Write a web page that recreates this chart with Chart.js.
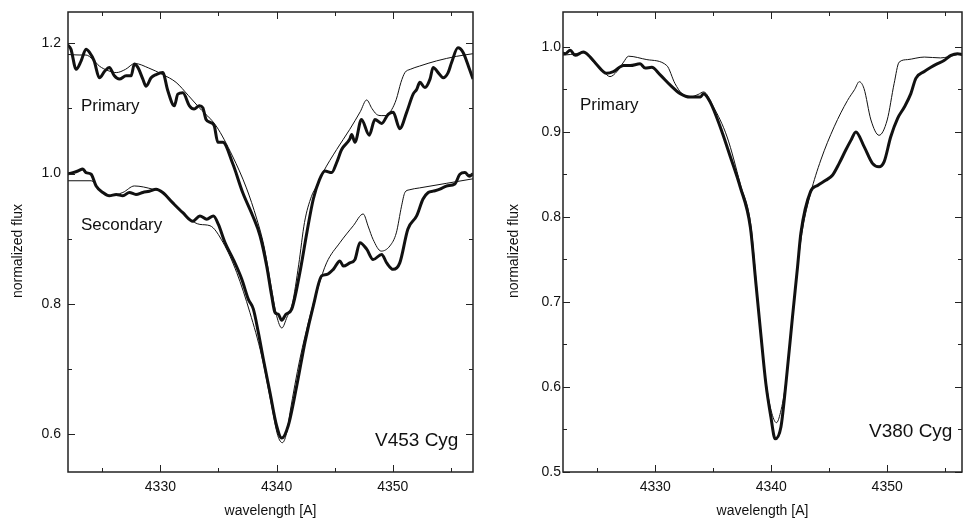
<!DOCTYPE html>
<html>
<head>
<meta charset="utf-8">
<script src="https://cdn.jsdelivr.net/npm/chart.js@4"></script>
<style>
  html, body { margin: 0; padding: 0; background: #fff; overflow: hidden; }
  #wrap { position: relative; width: 963px; height: 522px; }
  canvas { position: absolute; top: 0; }
  #left { left: 0; }
  #right { left: 480px; }
</style>
</head>
<body>
<div id="wrap">
  <canvas id="left" width="480" height="522"></canvas>
  <canvas id="right" width="483" height="522"></canvas>
</div>
<script>
// Axis ticks
const xMajorTicks = [4330, 4340, 4350];
const xMinorTicks = [4325, 4335, 4345, 4355];
const v453MajorTicks = [0.6, 0.8, 1.0, 1.2];
const v453MinorTicks = [0.7, 0.9, 1.1];
const v380MajorTicks = [0.5, 0.6, 0.7, 0.8, 0.9, 1.0];
const v380MinorTicks = [0.55, 0.65, 0.75, 0.85, 0.95];

// V453 Cyg - primary, observed (thick)
const v453PriObsX = [4322.0, 4322.3, 4322.75, 4323.18, 4323.6, 4323.9, 4324.3, 4324.75, 4325.2, 4325.6,
  4326.04, 4326.47, 4327.05, 4327.48, 4327.76, 4328.06, 4328.49, 4328.77, 4329.2, 4329.63,
  4330.2, 4330.64, 4331.2, 4331.5, 4331.93, 4332.5, 4332.9, 4333.35, 4333.65, 4333.93,
  4334.36, 4334.64, 4334.94, 4335.37, 4336.23, 4337.08, 4337.95, 4338.57, 4339.15, 4339.58,
  4339.86, 4340.15, 4340.44, 4340.8, 4341.3, 4342.0, 4342.6, 4343.16, 4343.7, 4344.16,
  4344.74, 4345.17, 4345.6, 4346.3, 4346.46, 4346.74, 4347.3, 4347.97, 4348.46, 4349.04,
  4349.6, 4350.03, 4350.6, 4351.19, 4351.75, 4352.05, 4352.33, 4352.76, 4353.2, 4353.47,
  4353.9, 4354.33, 4354.76, 4355.05, 4355.6, 4356.05, 4356.6, 4356.9];
const v453PriObsY = [1.198, 1.191, 1.160, 1.173, 1.191, 1.186, 1.173, 1.147, 1.157, 1.163,
  1.150, 1.145, 1.150, 1.150, 1.168, 1.163, 1.145, 1.134, 1.147, 1.152,
  1.155, 1.127, 1.104, 1.122, 1.124, 1.104, 1.099, 1.104, 1.101, 1.083,
  1.078, 1.073, 1.048, 1.048, 1.015, 0.971, 0.935, 0.905, 0.858, 0.812,
  0.787, 0.784, 0.775, 0.784, 0.792, 0.848, 0.909, 0.961, 0.991, 1.004,
  1.0015, 1.017, 1.037, 1.053, 1.060, 1.048, 1.083, 1.059, 1.083, 1.077,
  1.091, 1.094, 1.069, 1.094, 1.122, 1.129, 1.140, 1.132, 1.145, 1.163,
  1.155, 1.147, 1.155, 1.170, 1.193, 1.186, 1.160, 1.145];

// V453 Cyg - primary, model (thin)
const v453PriModX = [4321.9, 4323.0, 4323.6, 4324.2, 4324.75, 4325.5, 4326.2, 4327.0, 4327.8, 4329.0,
  4330.2, 4331.35, 4332.4, 4333.35, 4334.8, 4336.2, 4337.4, 4338.3, 4338.9, 4339.5,
  4340.0, 4340.45, 4340.9, 4341.35, 4341.9, 4342.4, 4343.0, 4343.45, 4344.0, 4345.17,
  4346.3, 4347.2, 4347.75, 4348.2, 4348.6, 4349.0, 4349.47, 4349.9, 4350.3, 4350.7,
  4351.04, 4351.5, 4352.3, 4353.77, 4355.5, 4356.9];
const v453PriModY = [1.183, 1.182, 1.182, 1.175, 1.165, 1.158, 1.155, 1.160, 1.169, 1.162,
  1.152, 1.140, 1.120, 1.101, 1.073, 1.027, 0.978, 0.930, 0.890, 0.830,
  0.782, 0.763, 0.780, 0.800, 0.860, 0.925, 0.965, 0.981, 1.002, 1.037,
  1.068, 1.095, 1.113, 1.100, 1.091, 1.089, 1.089, 1.098, 1.114, 1.140,
  1.155, 1.160, 1.165, 1.173, 1.180, 1.184];

// V453 Cyg - secondary, observed (thick)
const v453SecObsX = [4321.9, 4322.47, 4322.9, 4323.33, 4323.6, 4324.04, 4324.47, 4325.05, 4325.6, 4326.2,
  4326.77, 4327.33, 4327.9, 4328.49, 4329.05, 4329.63, 4330.2, 4331.07, 4331.93, 4332.8,
  4333.4, 4333.99, 4334.56, 4334.99, 4335.56, 4336.28, 4337.0, 4337.57, 4338.0, 4338.43,
  4338.86, 4339.43, 4340.0, 4340.44, 4341.0, 4341.73, 4342.44, 4343.16, 4343.88, 4344.3,
  4344.88, 4345.45, 4345.74, 4346.3, 4346.74, 4347.17, 4347.75, 4348.3, 4349.04, 4349.47,
  4350.03, 4350.6, 4351.3, 4352.05, 4352.6, 4353.05, 4353.47, 4354.05, 4354.63, 4355.34,
  4355.77, 4356.2, 4356.6, 4356.9];
const v453SecObsY = [0.999, 1.0015, 1.004, 1.007, 1.0015, 0.999, 0.981, 0.971, 0.966, 0.968,
  0.966, 0.971, 0.968, 0.971, 0.973, 0.976, 0.971, 0.955, 0.940, 0.927,
  0.935, 0.930, 0.935, 0.922, 0.894, 0.868, 0.838, 0.807, 0.792, 0.756,
  0.715, 0.664, 0.613, 0.594, 0.613, 0.674, 0.741, 0.797, 0.843, 0.845,
  0.853, 0.866, 0.858, 0.863, 0.868, 0.894, 0.884, 0.868, 0.876, 0.863,
  0.853, 0.863, 0.915, 0.935, 0.961, 0.971, 0.973, 0.976, 0.981, 0.984,
  0.999, 1.0015, 0.996, 1.0];

// V453 Cyg - secondary, model (thin)
const v453SecModX = [4321.9, 4324.04, 4324.75, 4325.6, 4326.77, 4327.76, 4329.35, 4330.2, 4331.35, 4332.5,
  4333.4, 4334.27, 4335.4, 4336.57, 4337.7, 4338.72, 4339.58, 4340.1, 4340.5, 4340.9,
  4341.15, 4342.0, 4342.87, 4343.6, 4344.3, 4345.45, 4346.6, 4347.45, 4347.9, 4348.3,
  4349.0, 4349.75, 4350.3, 4350.75, 4351.04, 4351.4, 4352.3, 4354.6, 4356.9];
const v453SecModY = [0.989, 0.989, 0.976, 0.966, 0.971, 0.981, 0.976, 0.971, 0.950, 0.930,
  0.922, 0.920, 0.894, 0.848, 0.787, 0.720, 0.643, 0.598, 0.587, 0.605,
  0.633, 0.715, 0.781, 0.827, 0.863, 0.894, 0.920, 0.938, 0.918, 0.899,
  0.881, 0.889, 0.909, 0.950, 0.971, 0.975, 0.978, 0.985, 0.992];

// V380 Cyg - primary, observed (thick)
const v380PriObsX = [4321.8, 4322.24, 4322.67, 4323.1, 4323.8, 4324.4, 4324.97, 4325.8, 4326.4, 4327.27,
  4327.84, 4328.7, 4329.14, 4329.7, 4330.43, 4331.3, 4332.16, 4333.0, 4333.9, 4334.17,
  4334.74, 4335.6, 4336.47, 4337.33, 4338.2, 4338.68, 4339.1, 4339.54, 4339.97, 4340.34,
  4340.84, 4341.27, 4341.84, 4342.27, 4342.56, 4343.4, 4344.0, 4344.7, 4345.28, 4345.86,
  4346.44, 4346.87, 4347.3, 4348.0, 4348.73, 4349.3, 4349.74, 4350.3, 4350.9, 4351.47,
  4352.04, 4352.47, 4353.2, 4353.77, 4354.3, 4354.9, 4355.5, 4356.06, 4356.5];
const v380PriObsY = [0.994, 0.992, 0.996, 0.990, 0.994, 0.988, 0.979, 0.969, 0.971, 0.978,
  0.978, 0.980, 0.975, 0.976, 0.967, 0.955, 0.945, 0.941, 0.941, 0.945,
  0.935, 0.906, 0.871, 0.835, 0.788, 0.722, 0.663, 0.604, 0.565, 0.539,
  0.553, 0.604, 0.683, 0.741, 0.781, 0.830, 0.837, 0.843, 0.849, 0.863,
  0.879, 0.890, 0.900, 0.883, 0.863, 0.859, 0.865, 0.894, 0.916, 0.929,
  0.945, 0.963, 0.971, 0.976, 0.980, 0.984, 0.990, 0.992, 0.991];

// V380 Cyg - primary, model (thin)
const v380PriModX = [4321.8, 4322.67, 4323.8, 4324.7, 4325.54, 4326.1, 4326.7, 4327.27, 4327.7, 4329.28,
  4331.0, 4331.7, 4332.3, 4333.0, 4333.7, 4334.17, 4335.0, 4336.2, 4337.33, 4338.25,
  4338.7, 4339.1, 4339.55, 4340.0, 4340.45, 4340.8, 4341.27, 4341.84, 4342.27, 4342.7,
  4343.4, 4344.28, 4345.43, 4346.58, 4347.2, 4347.59, 4348.0, 4348.6, 4349.3, 4350.0,
  4350.6, 4351.03, 4351.75, 4353.2, 4354.6, 4356.06, 4356.5];
const v380PriModY = [0.990, 0.991, 0.993, 0.982, 0.971, 0.965, 0.971, 0.982, 0.989, 0.985,
  0.978, 0.957, 0.945, 0.941, 0.944, 0.947, 0.930, 0.894, 0.839, 0.790,
  0.724, 0.665, 0.606, 0.572, 0.558, 0.570, 0.606, 0.683, 0.741, 0.785,
  0.828, 0.867, 0.906, 0.937, 0.950, 0.959, 0.951, 0.914, 0.896, 0.914,
  0.957, 0.982, 0.985, 0.988, 0.987, 0.991, 0.992];

const fontFamily = '"Liberation Sans", Arial, sans-serif';
const ink = '#111';
Chart.defaults.font.family = fontFamily;
Chart.defaults.color = ink;

function points(xs, ys) {
  const n = Math.min(xs.length, ys.length);
  const out = [];
  for (let i = 0; i < n; i++) out.push({ x: xs[i], y: ys[i] });
  return out;
}

function line(xs, ys, thick) {
  return {
    data: points(xs, ys),
    borderColor: ink,
    borderWidth: thick ? 3 : 1,
    pointRadius: 0,
    fill: false,
    cubicInterpolationMode: 'monotone'
  };
}

// frame, inward tick marks, annotations and y title
const framePlugin = {
  id: 'frame',
  afterDraw(chart, args, opts) {
    const ctx = chart.ctx;
    const a = chart.chartArea;
    const xs = chart.scales.x, ys = chart.scales.y;
    ctx.save();
    ctx.strokeStyle = '#222';
    ctx.lineWidth = 1;
    const xTick = (v, len) => {
      const p = Math.round(xs.getPixelForValue(v)) + 0.5;
      ctx.beginPath();
      ctx.moveTo(p, a.bottom); ctx.lineTo(p, a.bottom - len);
      ctx.moveTo(p, a.top); ctx.lineTo(p, a.top + len);
      ctx.stroke();
    };
    const yTick = (v, len) => {
      const p = Math.round(ys.getPixelForValue(v)) + 0.5;
      ctx.beginPath();
      ctx.moveTo(a.left, p); ctx.lineTo(a.left + len, p);
      ctx.moveTo(a.right, p); ctx.lineTo(a.right - len, p);
      ctx.stroke();
    };
    xMajorTicks.forEach(v => xTick(v, 7));
    xMinorTicks.forEach(v => xTick(v, 4));
    opts.yMajor.forEach(v => yTick(v, 7));
    opts.yMinor.forEach(v => yTick(v, 4));
    ctx.lineWidth = 1.5;
    ctx.strokeRect(a.left, a.top, a.right - a.left, a.bottom - a.top);

    ctx.fillStyle = ink;
    ctx.textBaseline = 'alphabetic';
    ctx.textAlign = 'left';
    opts.notes.forEach(n => {
      ctx.font = n.size + 'px ' + fontFamily;
      ctx.fillText(n.text, n.x, n.y);
    });

    ctx.translate(opts.yTitle.x, opts.yTitle.y);
    ctx.rotate(-Math.PI / 2);
    ctx.font = '14px ' + fontFamily;
    ctx.textAlign = 'center';
    ctx.textBaseline = 'middle';
    ctx.fillText(opts.yTitle.text, 0, 0);
    ctx.restore();
  }
};

function makeChart(id, cfg) {
  return new Chart(document.getElementById(id), {
    type: 'line',
    data: { datasets: cfg.datasets },
    options: {
      responsive: false,
      animation: false,
      layout: { padding: { top: 12, right: cfg.padRight, left: 0, bottom: 0 } },
      plugins: {
        legend: { display: false },
        tooltip: { enabled: false },
        frame: { yMajor: cfg.yMajor, yMinor: cfg.yMinor, notes: cfg.notes, yTitle: cfg.yTitle }
      },
      scales: {
        x: {
          type: 'linear',
          min: 4322.05,
          max: cfg.xMax,
          grid: { display: false, drawTicks: false },
          border: { display: false },
          afterBuildTicks: s => { s.ticks = xMajorTicks.map(v => ({ value: v })); },
          afterFit: s => { s.height = 50; s.paddingLeft = 0; s.paddingRight = 0; },
          ticks: { padding: 7, maxRotation: 0, font: { size: 14 }, callback: v => String(v) },
          title: { display: true, text: 'wavelength [A]', font: { size: 14 }, padding: { top: 0, bottom: 2 } }
        },
        y: {
          type: 'linear',
          min: cfg.yMin,
          max: cfg.yMax,
          grid: { display: false, drawTicks: false },
          border: { display: false },
          afterBuildTicks: s => { s.ticks = cfg.yMajor.map(v => ({ value: v })); },
          afterFit: s => { s.width = cfg.yWidth; s.paddingTop = 0; s.paddingBottom = 0; },
          ticks: { padding: cfg.yPad, font: { size: 14 }, callback: v => v.toFixed(1) }
        }
      }
    },
    plugins: [framePlugin]
  });
}

makeChart('left', {
  datasets: [
    line(v453PriModX, v453PriModY, false),
    line(v453SecModX, v453SecModY, false),
    line(v453PriObsX, v453PriObsY, true),
    line(v453SecObsX, v453SecObsY, true)
  ],
  xMax: 4356.9,
  yMin: 0.542,
  yMax: 1.248,
  yMajor: v453MajorTicks,
  yMinor: v453MinorTicks,
  yWidth: 68,
  yPad: 7,
  padRight: 7,
  yTitle: { text: 'normalized flux', x: 18, y: 251 },
  notes: [
    { text: 'Primary', x: 81, y: 111, size: 17 },
    { text: 'Secondary', x: 81, y: 230, size: 17 },
    { text: 'V453 Cyg', x: 375, y: 446, size: 19 }
  ]
});

makeChart('right', {
  datasets: [
    line(v380PriModX, v380PriModY, false),
    line(v380PriObsX, v380PriObsY, true)
  ],
  xMax: 4356.45,
  yMin: 0.5,
  yMax: 1.041,
  yMajor: v380MajorTicks,
  yMinor: v380MinorTicks,
  yWidth: 83,
  yPad: 2,
  padRight: 1,
  yTitle: { text: 'normalized flux', x: 34, y: 251 },
  notes: [
    { text: 'Primary', x: 100, y: 110, size: 17 },
    { text: 'V380 Cyg', x: 389, y: 437, size: 19 }
  ]
});
</script>
</body>
</html>
